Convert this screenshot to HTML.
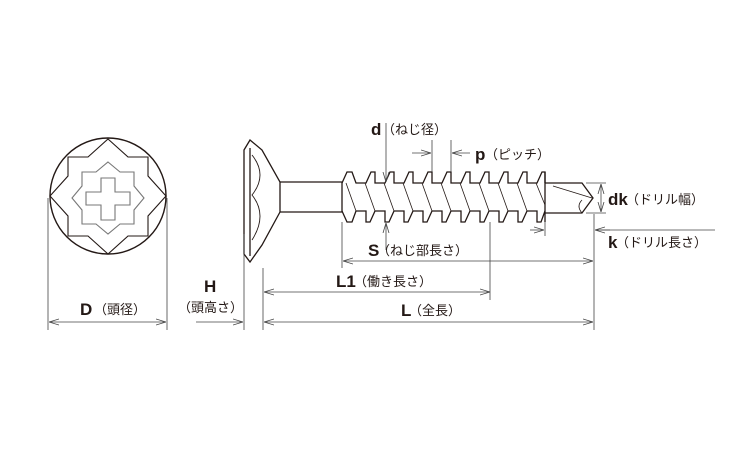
<!DOCTYPE html>
<html><head><meta charset="utf-8"><style>
html,body{margin:0;padding:0;background:#fff;}
svg{display:block;}
.b{font-family:"Liberation Sans",sans-serif;font-weight:bold;font-size:17px;fill:#231815;}
.j{font-family:"Liberation Sans","Noto Sans CJK JP",sans-serif;font-size:13px;fill:#231815;}
</style></head><body>
<svg width="750" height="450" viewBox="0 0 750 450" xmlns="http://www.w3.org/2000/svg">
<defs>
<marker id="a" markerWidth="10" markerHeight="8" refX="10" refY="4" orient="auto-start-reverse" markerUnits="userSpaceOnUse">
<path d="M0,1 L10,4 L0,7" fill="none" stroke="#444" stroke-width="0.8"/></marker>
</defs>
<g stroke="#231815" fill="none" stroke-width="1.4">
<circle cx="108" cy="196" r="58"/>
<polygon points="108,139 128,157 148,157 148,176 166,196 148,216 148,236 128,236 108,254 88,236 68,236 68,216 50,196 68,176 68,157 88,157" stroke-width="1.1"/>
</g>
<g stroke="#777" fill="none" stroke-width="1.1">
<polygon points="108,162 120,172 134,172 134,186 144,198 134,210 134,224 120,224 108,234 96,224 82,224 82,210 72,198 82,186 82,172 96,172"/>
<polygon points="101,178 115,178 115,192 130,192 130,205 115,205 115,220 101,220 101,205 86,205 86,192 101,192"/>
</g>
<g stroke="#231815" fill="none" stroke-width="1.3">
<path d="M244,150 L250,140 L262,150 L280,182 L280,212 L262,245 L250,262 L244,254 Z"/>
<line x1="250" y1="148" x2="250" y2="256"/>
<path d="M252,155 Q268,175 252,195 Q268,215 252,240" stroke-width="0.9"/>
<path d="M280,182 L342,182 M280,212 L342,212"/>
<path d="M342,182 L342,212"/>
<path d="M342,183 L347,172 L352,172 L356,183 L366,183 L371,172 L375,172 L375,183 L385,183 L390,172 L394,172 L394,183 L404,183 L409,172 L413,172 L413,183 L423,183 L428,172 L432,172 L432,183 L442,183 L447,172 L451,172 L451,183 L461,183 L466,172 L470,172 L470,183 L480,183 L485,172 L489,172 L489,183 L499,183 L504,172 L508,172 L508,183 L518,183 L523,172 L527,172 L527,183 L537,183 L542,172 L545,172 L545,183"/>
<path d="M342,211 L347,222 L352,222 L356,211 L366,211 L366,222 L370,222 L375,211 L385,211 L385,222 L389,222 L394,211 L404,211 L404,222 L408,222 L413,211 L423,211 L423,222 L427,222 L432,211 L442,211 L442,222 L446,222 L451,211 L461,211 L461,222 L465,222 L470,211 L480,211 L480,222 L484,222 L489,211 L499,211 L499,222 L503,222 L508,211 L518,211 L518,222 L522,222 L527,211 L537,211 L537,222 L541,222 L545,211"/>
<g stroke-width="0.8">
<path d="M346,183 L356,211 M365,183 L375,211 M384,183 L394,211 M403,183 L413,211 M422,183 L432,211 M441,183 L451,211 M460,183 L470,211 M479,183 L489,211 M498,183 L508,211 M517,183 L527,211 M536,183 L545,205"/>
</g>
<path d="M545,172 L545,222"/>
<path d="M545,183 L582,183 L593,198 L582,213 L545,213"/>
<path d="M553,186 L592,198 M582,213 Q576,206 582,200" stroke-width="0.8"/>
</g>
<g stroke="#444" stroke-width="0.8" fill="none">
<line x1="48" y1="198" x2="48" y2="330"/><line x1="167" y1="198" x2="167" y2="330"/>
<line x1="49" y1="322" x2="166" y2="322" marker-start="url(#a)" marker-end="url(#a)"/>
<line x1="244" y1="234" x2="244" y2="330"/><line x1="263" y1="268" x2="263" y2="330"/>
<line x1="196" y1="322" x2="243" y2="322" marker-end="url(#a)"/>
<line x1="264" y1="322" x2="593" y2="322" marker-start="url(#a)" marker-end="url(#a)"/>
<line x1="264" y1="292" x2="490" y2="292" marker-start="url(#a)" marker-end="url(#a)"/>
<line x1="490" y1="222" x2="490" y2="300"/>
<line x1="342" y1="222" x2="342" y2="268"/>
<line x1="343" y1="261" x2="593" y2="261" marker-start="url(#a)" marker-end="url(#a)"/>
<line x1="594" y1="214" x2="594" y2="330"/>
<line x1="545" y1="222" x2="545" y2="236"/>
<line x1="530" y1="230" x2="544" y2="230" marker-end="url(#a)"/>
<line x1="610" y1="230" x2="595" y2="230" marker-end="url(#a)"/>
<line x1="595" y1="230" x2="715" y2="230"/>
<line x1="586" y1="183" x2="606" y2="183"/><line x1="586" y1="213" x2="606" y2="213"/>
<line x1="601" y1="184" x2="601" y2="212" marker-start="url(#a)" marker-end="url(#a)"/>
<line x1="386" y1="123" x2="386" y2="182" marker-end="url(#a)"/>
<line x1="386" y1="250" x2="386" y2="223" marker-end="url(#a)"/>
<line x1="432" y1="140" x2="432" y2="172"/><line x1="451" y1="140" x2="451" y2="172"/>
<line x1="412" y1="153" x2="431" y2="153" marker-end="url(#a)"/>
<line x1="470" y1="153" x2="452" y2="153" marker-end="url(#a)"/>
</g>
<text class="b" x="80" y="315">D</text><text class="j" x="94" y="314">（頭径）</text>
<text class="b" x="204" y="292">H</text><text class="j" x="178" y="312">（頭高さ）</text>
<text class="b" x="401" y="316">L</text><text class="j" x="409" y="315">（全長）</text>
<text class="b" x="336" y="287">L1</text><text class="j" x="354" y="286">（働き長さ）</text>
<text class="b" x="368" y="256">S</text><text class="j" x="377" y="255">（ねじ部長さ）</text>
<text class="b" x="371" y="135">d</text><text class="j" x="382" y="134">（ねじ径）</text>
<text class="b" x="475" y="160">p</text><text class="j" x="485" y="159">（ピッチ）</text>
<text class="b" x="608" y="205">dk</text><text class="j" x="626" y="204">（ドリル幅）</text>
<text class="b" x="608" y="248">k</text><text class="j" x="616" y="247">（ドリル長さ）</text>
</svg>
</body></html>
